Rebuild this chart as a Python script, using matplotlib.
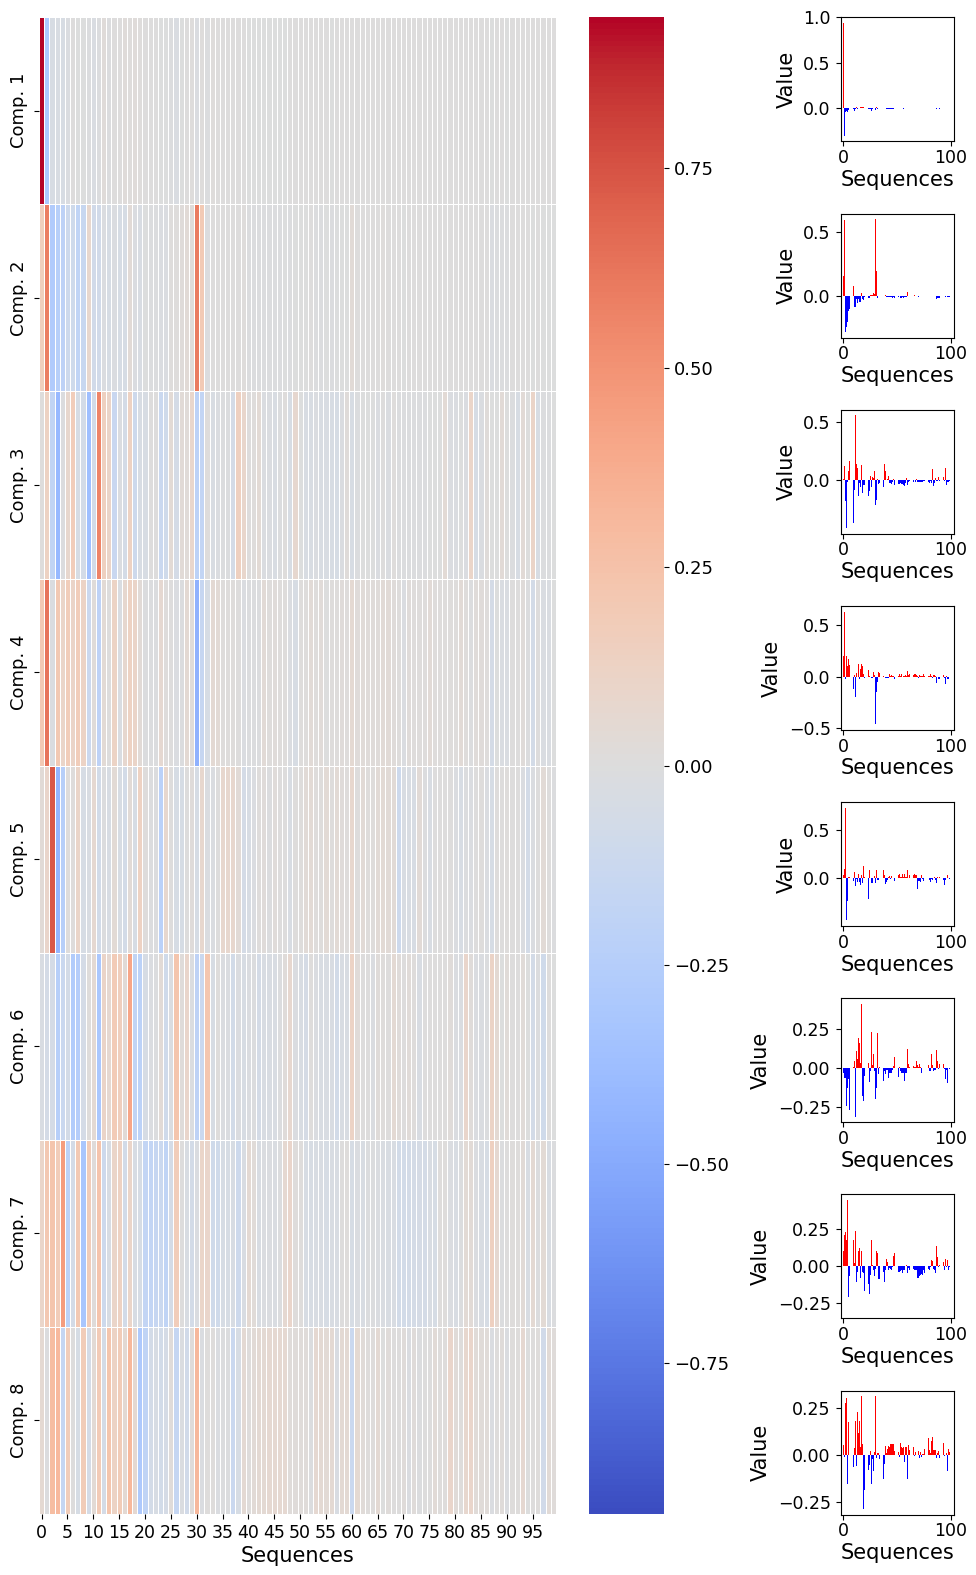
import matplotlib
matplotlib.use("Agg")
import matplotlib.pyplot as plt
import numpy as np
import seaborn as sns

comp1 = [.94, -.30, -.04, -.03, -.04, -.02, .003, -.004, -.005, -.012,
         -.025, -.012, .018, -.008, .006, .002, .018, .012, .016, .01,
         .002, .002, .001, -.002, -.003, -.012, -.025, -.006, .002, .008,
         -.02, .014, -.008, .008, .001, .001, .001, .005, .006, .006,
         -.006, -.006, -.006, -.006, -.006, -.006, -.006, -.005, 0, 0,
         0, 0, 0, 0, 0, 0, -.005, 0, 0, 0,
         0, 0, 0, 0, 0, 0, 0, 0, 0, 0,
         0, 0, 0, 0, 0, 0, 0, 0, 0, .005,
         0, 0, 0, 0, 0, 0, 0, -.005, 0, 0,
         -.005, 0, 0, 0, 0, 0, 0, .006, 0, 0]
comp2 = [.157, .59, -.275, -.24, -.2, -.11, -.1, -.19, -.14, .08,
         -.085, -.085, -.02, -.05, -.02, -.045, -.045, .03, -.02, -.03,
         -.005, -.01, -.01, -.015, -.015, .01, .01, .015, .03, .02,
         .6, .195, -.012, .002, .002, .002, .002, .005, .002, .012,
         -.008, -.008, -.008, -.008, -.008, -.008, -.01, -.002, -.01, -.002,
         -.002, -.002, .005, -.01, -.012, -.005, -.01, -.002, -.005, -.002,
         .035, .002, .005, 0, 0, 0, .012, .006, .006, .006,
         -.005, 0, 0, .005, 0, 0, 0, 0, 0, 0,
         0, .005, 0, .005, 0, 0, 0, -.02, -.01, -.01,
         -.01, 0, 0, .005, 0, -.007, 0, -.007, -.007, -.007]
comp3 = [.01, .125, -.18, -.41, -.01, .08, .17, -.05, -.07, -.37,
         -.08, .56, .14, .11, -.135, -.02, -.06, .13, -.11, -.04,
         -.04, .005, .005, -.13, -.09, .04, -.06, .03, .025, .085,
         -.21, -.17, .01, -.03, -.02, -.01, -.01, -.06, .14, .085,
         0, .01, .04, -.02, -.02, -.03, -.01, .01, -.04, .07,
         -.002, -.03, -.03, -.02, -.03, -.03, -.04, -.05, -.02, .02,
         -.04, -.01, -.005, -.005, -.005, -.015, .005, -.015, .01, -.01,
         -.012, -.012, -.012, -.012, -.012, -.002, -.002, -.002, .04, -.015,
         -.02, -.002, -.02, .1, -.05, -.02, .02, -.002, -.002, .03,
         -.002, -.01, -.04, .03, -.005, .11, -.04, -.01, -.01, -.002]
comp4 = [.2, .63, -.02, .2, .1, .17, .11, .17, .12, -.12,
         .02, -.2, .04, 0, .12, -.025, .07, .125, .105, .03,
         -.01, -.01, -.01, .065, .01, 0, -.015, -.01, .05, .02,
         -.46, -.15, -.05, .05, .04, .01, .01, .01, 0, -.015,
         -.01, -.01, -.01, .03, .01, .015, .01, .01, -.02, -.04,
         .01, .01, .03, .01, .025, -.005, .01, .01, .02, .01,
         .055, .015, .025, .015, .015, .02, .03, .03, .015, .01,
         -.015, .02, .01, .01, .01, .03, .01, .01, .01, .01,
         .01, .03, .01, -.01, .02, .02, .01, -.06, -.005, -.025,
         -.025, .005, .005, .02, -.01, -.07, .005, -.025, -.025, -.005]
comp5 = [.03, .09, .73, -.44, -.24, .01, .01, .1, -.05, -.03,
         .06, -.08, -.01, -.04, .04, -.04, -.07, .03, -.05, .13,
         .01, -.01, -.01, -.22, .08, 0, -.05, -.05, 0, .02,
         -.05, .08, -.02, -.02, 0, .08, .08, .08, .03, -.06,
         -.04, -.02, .01, .02, -.01, .02, 0, 0, -.03, .01,
         .01, .03, .04, .01, .01, .04, .01, .04, .015, .01,
         .08, 0, .03, .01, .01, .03, .04, .03, .03, -.11,
         -.03, -.03, -.04, .03, -.01, -.03, 0, 0, 0, 0,
         -.015, -.04, -.01, -.02, 0, .01, -.02, -.05, .01, 0,
         .01, 0, 0, -.02, -.07, -.02, 0, .03, 0, -.01]
comp6 = [-.03, -.06, -.06, -.24, -.13, -.07, -.27, -.25, -.06, .01,
         .045, -.31, .11, .06, .19, .16, .03, .41, -.18, -.21,
         -.05, -.02, -.01, .03, -.09, -.02, .23, .02, .09, -.02,
         -.2, -.13, .225, -.04, .01, -.02, -.02, -.08, -.02, -.04,
         -.015, -.01, -.06, -.03, -.03, -.03, -.01, .015, .07, -.02,
         -.03, -.055, .01, -.02, -.03, -.03, -.03, -.08, -.03, -.03,
         .12, .025, .005, 0, -.02, .015, .01, .005, .045, .02,
         .005, .025, .01, -.03, 0, 0, 0, 0, 0, .02,
         -.02, -.02, .09, .02, -.02, -.015, -.01, .115, .045, -.005,
         .025, 0, 0, .025, -.005, -.07, -.01, -.095, 0, -.005]
comp7 = [.1, .21, .23, .175, .45, -.21, -.07, .2, -.32, .18,
         .02, .24, -.11, -.04, .1, .125, -.08, .1, -.04, -.05,
         -.17, -.17, -.15, -.125, -.19, -.06, .175, .005, -.03, -.07,
         -.02, .1, .09, -.09, -.09, -.05, -.05, -.04, -.11, -.03,
         .045, .025, -.03, -.015, -.02, -.025, -.01, .065, .09, .01,
         .01, -.04, -.04, -.035, -.03, -.05, -.03, -.03, 0, .01,
         -.05, -.015, -.03, -.01, -.01, -.02, -.025, -.03, -.03, -.08,
         -.08, -.07, -.06, -.055, -.06, -.03, -.05, .01, .01, -.02,
         -.03, -.01, .04, .035, -.02, -.03, -.045, .14, .06, -.01,
         .005, .01, .01, .03, -.03, .045, -.01, .04, -.03, -.01]
comp8 = [.055, -.01, .28, .305, -.155, .175, 0, -.05, .18, -.065,
         .04, .185, -.06, .23, .12, .18, .045, .315, .06, -.29,
         -.19, -.07, -.04, -.08, -.055, .02, -.155, -.02, -.085, .015,
         .315, -.015, .01, .01, -.02, -.01, -.01, -.13, -.05, .05,
         .01, .03, .05, .045, .06, .06, .06, .06, .02, .02,
         .02, .015, -.01, .065, .045, .04, .045, -.035, .045, .045,
         -.13, .055, .025, .01, .01, .045, -.005, .015, 0, 0,
         .02, -.015, .015, -.01, .005, .005, .03, .01, .01, .09,
         .025, .01, .075, .095, .025, .025, .025, -.015, .01, .02,
         -.015, .01, .01, .065, -.005, 0, .01, -.085, .03, .015]
components = [comp1, comp2, comp3, comp4, comp5, comp6, comp7, comp8]
comp_names = ["Comp. " + str(i + 1) for i in range(8)]

W, H = 976, 1575


def px_axes(fig, left, top, right, bottom):
    return fig.add_axes([left / W, 1 - bottom / H, (right - left) / W, (bottom - top) / H])


fig = plt.figure(figsize=(W / 100, H / 100), dpi=100)

ax = px_axes(fig, 39, 17.2, 556, 1514)
cax = px_axes(fig, 589, 17.2, 664, 1514)
matrix = np.array(components)
sns.heatmap(matrix, cmap="coolwarm", vmin=-0.94, vmax=0.94, ax=ax, cbar_ax=cax,
            linewidths=0.7, linecolor="white", xticklabels=5,
            yticklabels=comp_names)
ax.tick_params(axis="x", labelsize=12.5, labelrotation=0)
ax.tick_params(axis="y", labelsize=13, labelrotation=90, pad=4.5)
for label in ax.get_yticklabels():
    label.set_va("center")
ax.set_xlabel("Sequences", fontsize=15, labelpad=3)
cax.set_yticks([-0.75, -0.5, -0.25, 0, 0.25, 0.5, 0.75])
cax.tick_params(labelsize=13)

seq = np.arange(100)
for i, values in enumerate(components):
    top = 17.3 + 196.2 * i
    bar_ax = px_axes(fig, 840.5, top, 954.2, top + 124)
    values = np.array(values)
    colors = ["red" if v > 0 else "blue" for v in values]
    bar_ax.bar(seq, values, color=colors)
    # 1.0714 px per sequence, the thin bars drop out the same way as the original
    bar_ax.set_xlim(-2.766, 103.36)
    bar_ax.set_xticks([0, 100])
    if i == 0:
        bar_ax.set_yticks([0, 0.5, 1.0])
    elif i in (1, 2, 4):
        bar_ax.set_yticks([0, 0.5])
    elif i == 3:
        bar_ax.set_yticks([-0.5, 0, 0.5])
    else:
        bar_ax.set_yticks([-0.25, 0, 0.25])
    bar_ax.tick_params(labelsize=12.5)
    bar_ax.tick_params(axis="x", pad=2)
    bar_ax.set_xlabel("Sequences", fontsize=15, labelpad=2)
    bar_ax.set_ylabel("Value", fontsize=15, labelpad=5)

fig.savefig("out.png", dpi=100)
